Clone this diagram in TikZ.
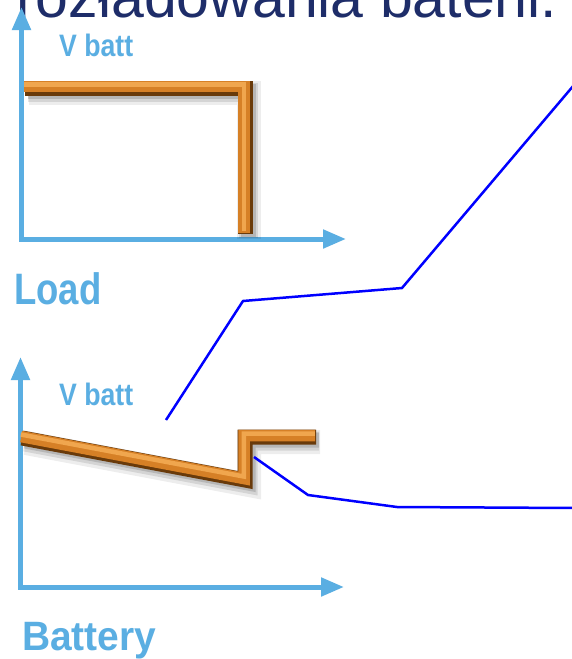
\documentclass[tikz,border=0pt]{standalone}
\usepackage{fontspec}
\usepackage{graphicx}
\setmainfont{Liberation Sans}
\usetikzlibrary{arrows.meta}
\definecolor{axisblue}{RGB}{90,174,226}
\definecolor{navy}{RGB}{30,45,105}
\definecolor{tubedark}{RGB}{105,58,10}
\definecolor{tubemid}{RGB}{214,128,38}
\definecolor{tubelight}{RGB}{240,166,78}
\newcommand\tubedraw[1]{%
  \draw[black, opacity=0.07, line width=24pt, shift={(4,5)}] #1;
  \draw[black, opacity=0.10, line width=19pt, shift={(3,4)}] #1;
  \draw[black, opacity=0.14, line width=15pt, shift={(3,3)}] #1;
  \draw[tubedark, line width=15pt] #1;
  \draw[tubemid, line width=11.5pt, shift={(-0.8,-1.4)}] #1;
  \draw[tubelight, line width=4.5pt, shift={(-1.2,-3.5)}] #1;
}
\tikzset{
  axis/.style={axisblue, line width=5pt, line join=miter,
    {Triangle[length=23pt,width=18pt]}-{Triangle[length=23pt,width=18pt]}},
  lbl/.style={anchor=base west, inner sep=0pt, text=axisblue},
  conn/.style={blue, line width=2.5pt, line join=miter},
}
\begin{document}
\begin{tikzpicture}[x=1pt,y=-1pt, line join=miter]
\clip (0,0) rectangle (572,659);
\fill[white] (0,0) rectangle (572,659);

% title (cut by the top edge)
\node[anchor=base west, inner sep=0pt, text=navy,
      font=\fontsize{59}{59}\selectfont] (title) at (16,17) {rozładowania baterii.};

% top chart
\draw[axis] (21.5,7) -- (21.5,239) -- (346,239);
\tubedraw{(25,88) -- (245,88) -- (245,234)}
\node[lbl, font=\bfseries\fontsize{31}{31}\selectfont] (vb1) at (59,56) {\scalebox{0.86}[1]{V batt}};
\node[lbl, font=\bfseries\fontsize{44}{44}\selectfont] (load) at (14,304) {\scalebox{0.83}[1]{Load}};

% bottom chart
\draw[axis] (20.5,357) -- (20.5,587) -- (344,587);
\tubedraw{(22,438) -- (245,480) -- (245,437) -- (316,437)}
\node[lbl, font=\bfseries\fontsize{31}{31}\selectfont] (vb2) at (59,405) {\scalebox{0.86}[1]{V batt}};
\node[lbl, font=\bfseries\fontsize{41}{41}\selectfont] (battery) at (22,650) {\scalebox{0.95}[1]{Battery}};

% blue connectors
\coordinate (a1) at (166,420);
\coordinate (a2) at (243,301);
\coordinate (a3) at (402,288);
\coordinate (a4) at (574,85);
\draw[conn] (a1) -- (a2) -- (a3) -- (a4);
\coordinate (b1) at (254,457);
\coordinate (b2) at (308,495);
\coordinate (b3) at (397,507);
\coordinate (b4) at (574,508);
\draw[conn] (b1) -- (b2) -- (b3) -- (b4);
\end{tikzpicture}
\end{document}
